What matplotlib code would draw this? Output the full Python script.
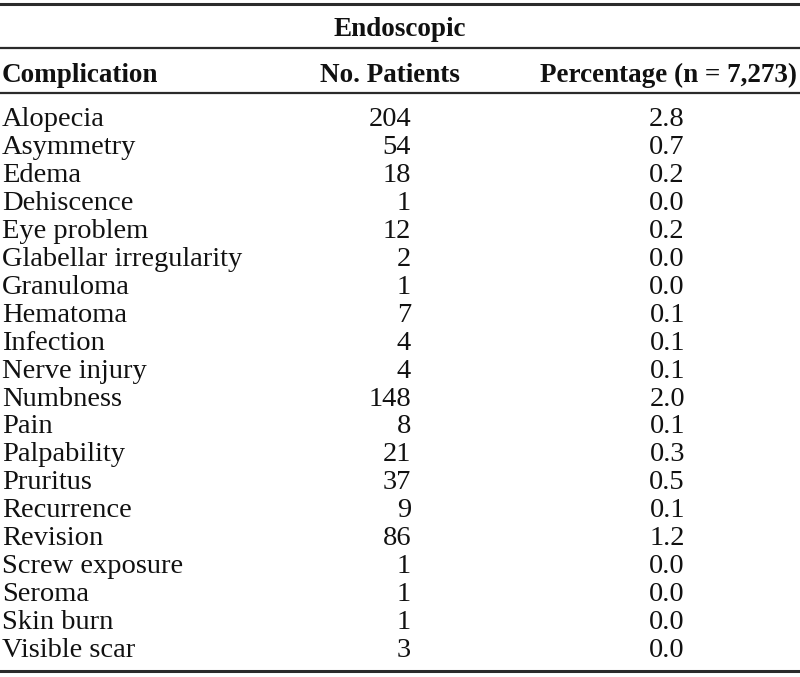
import matplotlib.pyplot as plt
from matplotlib.lines import Line2D

# table contents
complications = ["Alopecia", "Asymmetry", "Edema", "Dehiscence", "Eye problem",
                 "Glabellar irregularity", "Granuloma", "Hematoma", "Infection",
                 "Nerve injury", "Numbness", "Pain", "Palpability", "Pruritus",
                 "Recurrence", "Revision", "Screw exposure", "Seroma",
                 "Skin burn", "Visible scar"]
patients = [204, 54, 18, 1, 12, 2, 1, 7, 4, 4, 148, 8, 21, 37, 9, 86, 1, 1, 1, 3]
percentage = [2.8, 0.7, 0.2, 0.0, 0.2, 0.0, 0.0, 0.1, 0.1, 0.1,
              2.0, 0.1, 0.3, 0.5, 0.1, 1.2, 0.0, 0.0, 0.0, 0.0]
group_title = "Endoscopic"
headers = ["Complication", "No. Patients", "Percentage (n = 7,273)"]

W, H = 800, 677
plt.rcParams['font.family'] = ['Liberation Serif', 'DejaVu Serif']
fs_body = 20.5
fs_head = 19.5

fig = plt.figure(figsize=(W / 100, H / 100), dpi=100)
ax = fig.add_axes([0, 0, 1, 1])
ax.set_xlim(0, W)
ax.set_ylim(H, 0)
ax.axis('off')

# horizontal rules
rule_col = '#2b2b2b'
for y, lw in [(3.5, 2.2), (48, 1.6), (93, 1.6), (671, 2.2)]:
    ax.add_line(Line2D([0, W], [y, y], color=rule_col, lw=lw))

ax.text(400, 36, group_title, ha='center', va='baseline', fontsize=fs_head,
        fontweight='bold', color='#111')
ax.text(2, 82, headers[0], ha='left', va='baseline', fontsize=fs_head,
        fontweight='bold', color='#111')
ax.text(390, 82, headers[1], ha='center', va='baseline', fontsize=fs_head,
        fontweight='bold', color='#111')
ax.text(797, 82, headers[2], ha='right', va='baseline', fontsize=fs_head,
        fontweight='bold', color='#111')

y0, dy = 126, 27.95
for i, (c, n, p) in enumerate(zip(complications, patients, percentage)):
    y = y0 + i * dy
    ax.text(2, y, c, ha='left', va='baseline', fontsize=fs_body, color='#111')
    ax.text(411, y, str(n), ha='right', va='baseline', fontsize=fs_body, color='#111')
    ax.text(685, y, f"{p:.1f}", ha='right', va='baseline', fontsize=fs_body, color='#111')

fig.savefig("out.png", dpi=100)
